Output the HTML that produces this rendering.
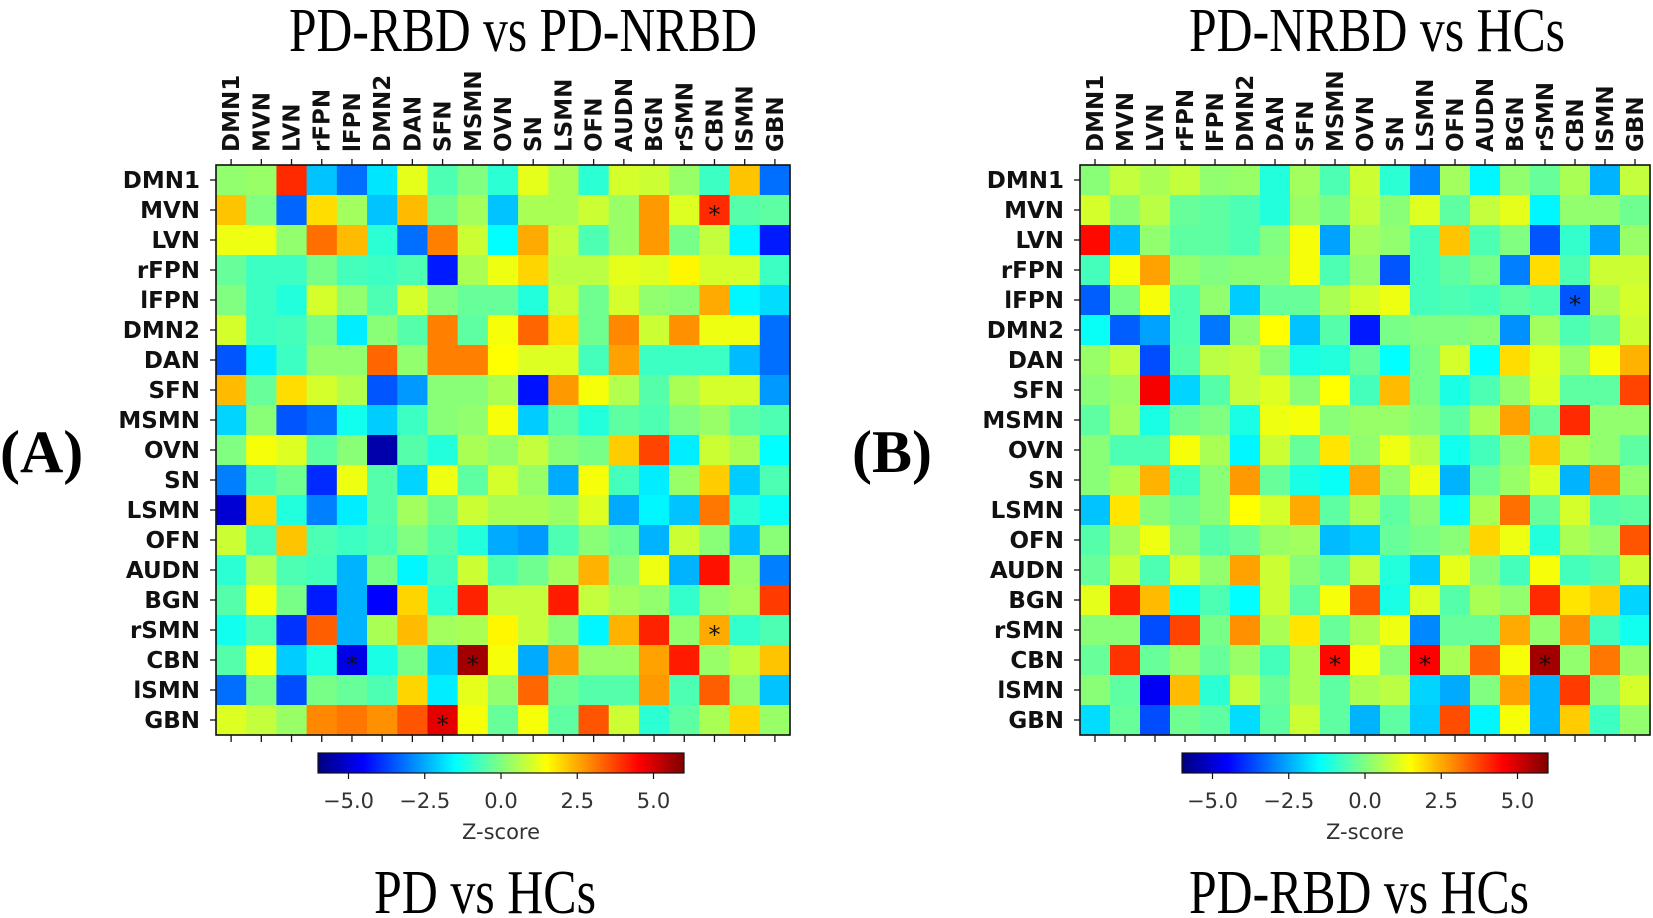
<!DOCTYPE html>
<html><head><meta charset="utf-8"><style>
html,body{margin:0;padding:0;background:#fff;}
svg{display:block;}
.ttl{font-family:"Liberation Serif",serif;font-size:62px;fill:#000;}
.pl{font-family:"Liberation Serif",serif;font-size:60px;font-weight:bold;fill:#000;}
.lab{font-family:"DejaVu Sans",sans-serif;font-size:23px;font-weight:bold;fill:#111;}
.cbt{font-family:"DejaVu Sans",sans-serif;font-size:21px;fill:#333;}
</style></head><body>
<svg id="fig" width="1653" height="918" viewBox="0 0 1653 918" xmlns="http://www.w3.org/2000/svg">
<defs><linearGradient id="jetg" x1="0" x2="1" y1="0" y2="0"></linearGradient></defs>
<text class="ttl" x="289" y="51" textLength="468" lengthAdjust="spacingAndGlyphs">PD-RBD vs PD-NRBD</text>
<text class="ttl" x="374" y="913" textLength="222" lengthAdjust="spacingAndGlyphs">PD vs HCs</text>
<text class="ttl" x="1189" y="51" textLength="376" lengthAdjust="spacingAndGlyphs">PD-NRBD vs HCs</text>
<text class="ttl" x="1189" y="913" textLength="340" lengthAdjust="spacingAndGlyphs">PD-RBD vs HCs</text>
<text class="pl" x="0" y="472">(A)</text>
<text class="pl" x="852" y="472">(B)</text>
</svg>
<script>
const labels=["DMN1","MVN","LVN","rFPN","lFPN","DMN2","DAN","SFN","MSMN","OVN","SN","LSMN","OFN","AUDN","BGN","rSMN","CBN","lSMN","GBN"];
const cbTicks=[-5,-2.5,0,2.5,5];
const zMin=-6, zMax=6;
const matA=[
[0.2,0.3,4.0,-2.2,-3.2,-1.8,1.2,-0.6,0,-1.0,1.2,0.5,-1.0,1.0,0.9,0.3,-0.8,2.2,-3.2],
[2.2,0,-3.3,1.9,0.4,-2.2,2.3,-0.2,0.4,-2.2,0.5,0.5,0.9,0.3,2.7,1.1,4.0,-0.5,-0.4],
[1.3,1.3,0.2,3.2,2.3,-1.0,-3.2,3.0,0.9,-1.5,2.5,0.8,-0.6,0.3,2.7,-0.1,0.8,-1.6,-4.2],
[-0.3,-0.8,-0.8,-0.1,-0.7,-0.8,-0.6,-4.2,0.5,1.3,2.0,0.7,0.7,1.2,1.1,1.6,1.0,1.0,-0.8],
[0,-0.8,-1.1,1.0,0.2,-0.6,1.0,0,-0.3,-0.3,-1.1,0.9,-0.2,1.0,0.2,0.1,2.5,-1.6,-1.9],
[1.0,-0.8,-0.7,-0.1,-1.7,0.1,-0.5,3.0,-0.4,1.4,3.3,1.9,-0.2,2.9,0.9,2.8,1.3,1.3,-3.2],
[-3.5,-1.7,-0.8,0.2,0.2,3.3,0.2,3.0,3.0,1.5,1.1,1.1,-0.7,2.6,-0.8,-0.8,-0.8,-2.3,-3.2],
[2.3,-0.3,1.9,1.0,0.6,-3.5,-2.7,0.1,0.1,0.5,-4.3,2.7,1.4,0.6,-0.5,0.5,1.0,1.0,-2.7],
[-2.0,0.1,-3.5,-3.2,-1.3,-2.1,-0.8,0.1,0.2,1.4,-2.1,-0.4,-1.1,-0.4,-0.6,0,0.3,-0.4,-0.6],
[0,1.4,1.1,-0.4,0.1,-5.5,-0.5,-1.1,0.5,0.2,0.8,0.1,-0.1,2.1,3.7,-1.7,0.9,0.5,-1.5],
[-3.0,-0.6,-0.2,-4.0,1.3,-0.5,-2.0,1.3,-0.4,1.0,0.3,-2.5,1.4,-0.7,-1.7,0.3,2.1,-2.1,-0.6],
[-5.0,2.0,-1.1,-3.0,-1.7,-0.5,0.4,-0.2,0.9,0.5,0.5,0.3,1.1,-2.5,-1.6,-2.2,3.1,-1.0,-1.4],
[0.9,-0.7,2.2,-0.6,-0.8,-0.6,0.0,-0.5,-1.1,-2.5,-2.7,-0.6,0.1,-0.2,-2.4,0.9,0.1,-2.3,0.1],
[-1.0,0.6,-0.6,-0.7,-2.4,-0.1,-1.6,-0.7,0.9,-0.6,-0.2,0.4,2.4,0.1,1.3,-2.4,4.3,0.3,-3.0],
[-0.5,1.4,-0.1,-4.2,-2.4,-4.5,2.0,-1.0,4.1,0.8,0.8,4.2,0.8,0.4,0.2,-0.9,0.2,0.4,3.8],
[-1.3,-0.6,-3.9,3.4,-2.4,0.5,2.3,0.4,0.5,1.6,0.8,0.1,-1.6,2.4,4.1,0.2,2.5,-0.9,-0.6],
[-0.5,1.4,-2.1,-1.2,-4.8,-1.2,-0.1,-2.1,5.6,1.4,-2.5,2.7,0.3,0.3,2.6,4.2,0.3,0.7,2.2],
[-3.2,-0.1,-3.6,-0.1,-0.3,-0.6,2.0,-1.7,1.2,0.2,3.3,-0.2,-0.5,-0.5,2.7,-0.6,3.4,0.2,-2.2],
[1.1,0.8,0.3,2.9,3.1,2.8,3.5,4.8,1.4,-0.3,1.4,-0.4,3.5,0.9,-1.0,-0.4,0.5,2.0,0.3]];
const matB=[
[0.1,0.8,0.5,0.8,0.2,0.3,-1.1,0.4,-0.6,0.9,-1.0,-2.9,0.4,-1.6,0.2,-0.3,0.5,-2.4,0.8],
[1.0,0.1,0.7,-0.3,-0.4,-0.6,-1.1,0.3,-0.1,0.8,0.1,1.1,-0.4,0.8,1.2,-1.6,0.2,0.2,-0.2],
[4.4,-2.3,0.2,-0.4,-0.4,-0.6,0,1.4,-2.6,0.4,0.2,-0.7,2.2,-0.6,0,-3.5,-0.9,-2.6,0.3],
[-0.7,1.4,2.6,0.2,0,0.1,0.1,1.4,-0.6,0.2,-3.5,-0.7,-0.4,-0.1,-3.0,1.9,-0.6,0.9,0.9],
[-3.4,-0.1,1.4,-0.6,0.2,-2.1,-0.3,-0.3,0.5,1.0,1.3,-0.7,-0.6,-0.7,-0.4,-0.6,-3.5,0.5,1.0],
[-1.4,-3.4,-2.6,-0.6,-3.1,0.2,1.5,-2.2,-0.5,-4.2,-0.1,0,0,0.1,-2.8,0.4,-0.6,-0.3,0.9],
[0.3,0.8,-3.6,-0.5,0.7,0.8,0.1,-1.2,-1.1,-0.3,-1.5,-0.1,1.0,-1.5,1.9,1.2,0.3,1.4,2.4],
[0.1,0.3,4.6,-2.0,-0.5,0.8,1.1,0.1,1.5,-0.7,2.3,-0.1,-1.2,-0.6,0.2,1.1,-0.4,-0.4,3.7],
[-0.4,0.4,-1.2,-0.2,0,-1.2,1.3,1.4,0.1,0.3,0.3,0.1,-0.4,0.5,2.6,-0.3,4.0,0.2,0.2],
[0.1,-0.6,-0.6,1.4,0.5,-1.6,0.9,-0.3,1.8,0.2,1.3,0.7,-1.3,-0.7,0.1,2.2,0.5,0.2,-0.4],
[0.1,0.5,2.4,-0.8,0.1,2.7,-0.3,-1.2,-1.4,2.5,0.2,1.3,-2.4,-0.2,0.3,1.1,-2.4,2.9,0.2],
[-2.2,1.8,0.1,-0.2,0.1,1.5,1.0,2.5,-0.4,0.5,-0.4,0.1,-1.6,0.5,3.2,-0.3,1.0,-0.5,-0.4],
[-0.5,0.4,1.3,0.1,-0.5,-0.3,0.3,0.4,-2.3,-2.1,-0.3,-0.1,0.1,2.0,1.3,-1.1,0.5,0.2,3.5],
[-0.3,0.9,-0.6,1.0,0.2,2.6,0.9,0.1,-0.4,0.8,-1.1,-2.1,1.2,0.1,-0.7,1.4,-0.7,-0.5,0.9],
[1.2,4.1,2.3,-1.4,-0.6,-1.5,0.9,-0.4,1.4,3.5,-1.2,1.1,-0.5,0.5,0.2,4.0,1.8,2.1,-2.0],
[0.1,0.1,-3.6,3.7,-0.1,2.8,0.5,1.8,-0.3,0.5,1.3,-2.9,-0.3,-0.3,2.5,0.2,2.8,-0.7,-1.3],
[-0.3,3.9,-0.3,0.2,-0.3,0.3,-0.7,0.5,4.4,1.4,0.1,4.5,0.5,3.3,1.4,5.6,0.2,3.1,0.3],
[0.1,-0.4,-4.6,2.3,-1.0,0.8,-0.3,0.5,-0.4,0.5,0.7,-2.0,-2.5,0,2.6,-2.4,3.8,0.1,1.0],
[-1.9,-0.3,-3.6,-0.2,-0.4,-1.9,-0.4,0.9,-0.4,-2.4,-0.4,-2.1,3.6,-1.6,1.4,-2.4,2.1,-0.8,0.2]];
const starsA=[[1,16],[15,16],[16,4],[16,8],[18,7]];
const starsB=[[4,16],[16,8],[16,11],[16,15]];

const NS="http://www.w3.org/2000/svg";
const svg=document.getElementById('fig');
function mk(tag,attrs,parent){const e=document.createElementNS(NS,tag);for(const k in attrs)e.setAttribute(k,attrs[k]);(parent||svg).appendChild(e);return e;}
function clip(v){return Math.max(0,Math.min(1,v));}
function jet(v){const t=clip((v-zMin)/(zMax-zMin));
 const r=clip(1.5-Math.abs(4*t-3)),g=clip(1.5-Math.abs(4*t-2)),b=clip(1.5-Math.abs(4*t-1));
 return `rgb(${Math.round(r*255)},${Math.round(g*255)},${Math.round(b*255)})`;}
const grad=document.getElementById('jetg');
for(let i=0;i<=40;i++){const v=zMin+(zMax-zMin)*i/40;mk('stop',{offset:(i/40),'stop-color':jet(v)},grad);}

function panel(key,mat,stars,x0,y0,w,h,cbx0,cbw){
 const n=labels.length,cw=w/n,ch=h/n;
 const xs=j=>x0+j*cw, ys=i=>y0+i*ch;
 const g=mk('g',{});
 
 
 for(let i=0;i<n;i++)for(let j=0;j<n;j++){
  const r=mk('rect',{x:xs(j),y:ys(i),width:cw+0.6,height:ch+0.6,fill:jet(mat[i][j])},g);
  
  
 }
 stars.forEach(s=>{const t=mk('text',{x:xs(s[1])+cw/2,y:ys(s[0])+ch/2+13,'text-anchor':'middle','font-family':'DejaVu Sans,sans-serif','font-size':'24',fill:'#111'},g);t.textContent='*';
  
  });
 const fr=mk('rect',{x:x0,y:y0,width:w,height:h,fill:'none',stroke:'#111','stroke-width':1.6},g);
 
 
 for(let k=0;k<n;k++){
  const cx=xs(k)+cw/2, cy=ys(k)+ch/2;
  mk('line',{x1:cx,x2:cx,y1:y0,y2:y0-6,stroke:'#111','stroke-width':1.3},g);
  mk('line',{x1:cx,x2:cx,y1:y0+h,y2:y0+h+7,stroke:'#111','stroke-width':1.3},g);
  mk('line',{x1:x0,x2:x0-6,y1:cy,y2:cy,stroke:'#111','stroke-width':1.3},g);
  const rl=mk('text',{x:x0-16,y:cy+8,'text-anchor':'end',class:'lab'},g);rl.textContent=labels[k];
  
  
  const cl=mk('text',{x:0,y:0,'text-anchor':'start',class:'lab',transform:`translate(${cx+8},${y0-13}) rotate(-90)`},g);cl.textContent=labels[k];
  
  
 }
 const cbY=753,cbH=20;
 const cb=mk('rect',{x:cbx0,y:cbY,width:cbw,height:cbH,fill:'url(#jetg)',stroke:'#111','stroke-width':1.2},g);
 
 
 const cxs=v=>cbx0+(v-zMin)/(zMax-zMin)*cbw;
 cbTicks.forEach(v=>{
  mk('line',{x1:cxs(v),x2:cxs(v),y1:cbY+cbH,y2:cbY+cbH+6,stroke:'#111','stroke-width':1.2},g);
  const t=mk('text',{x:cxs(v),y:cbY+cbH+35,'text-anchor':'middle',class:'cbt'},g);t.textContent=(v<0?'\u2212':'')+Math.abs(v).toFixed(1);
  
  
 });
 const zl=mk('text',{x:cbx0+cbw/2,y:839,'text-anchor':'middle',class:'cbt'},g);zl.textContent='Z-score';
 
 
}
panel('a',matA,starsA,216,165,574,570,318,366);
panel('b',matB,starsB,1080,165,570,570,1182,366);
</script>
</body></html>
